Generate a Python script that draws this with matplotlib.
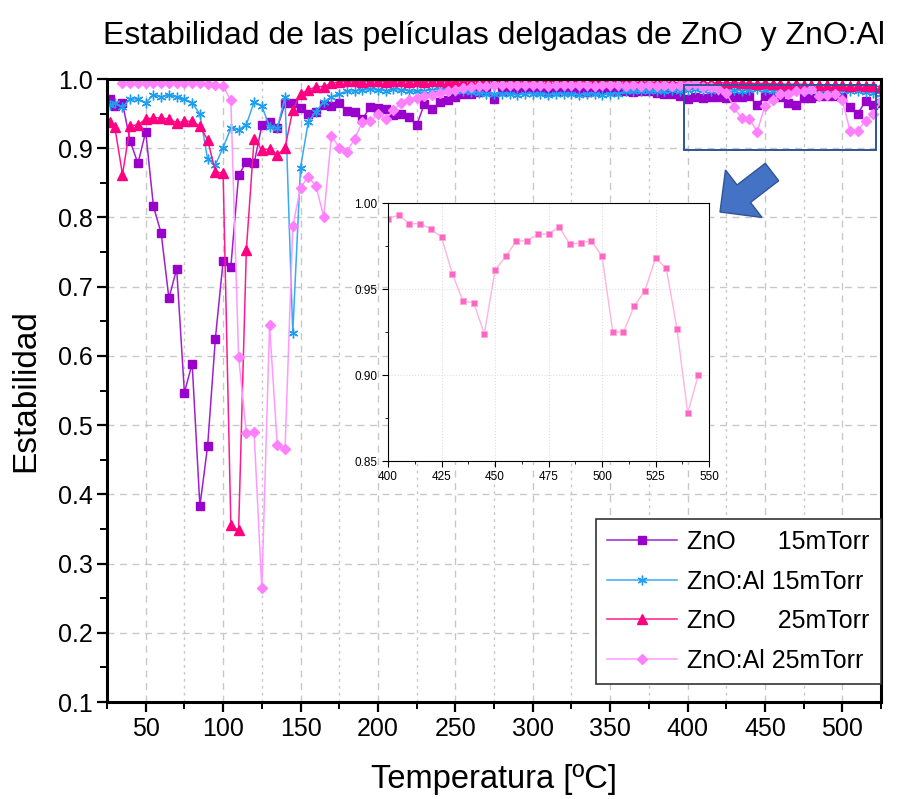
import numpy as np
import matplotlib
matplotlib.use('Agg')
import matplotlib.pyplot as plt
import matplotlib.patches as mpatches
import matplotlib.transforms as mtransforms
from matplotlib.ticker import MultipleLocator

plt.rcParams['font.family'] = ['Liberation Sans', 'DejaVu Sans']

# Temperaturas de medida (ºC)
temps = [27] + list(range(30, 550, 5))

# ZnO 15mTorr
zno_15 = [0.971, 0.961, 0.965, 0.910, 0.878, 0.924, 0.816, 0.777, 0.683, 0.726,
          0.547, 0.589, 0.383, 0.470, 0.625, 0.737, 0.729, 0.861, 0.880, 0.878,
          0.933, 0.938, 0.929, 0.965, 0.966, 0.958, 0.949, 0.953, 0.962, 0.961,
          0.966, 0.954, 0.953, 0.942, 0.960, 0.958, 0.956, 0.948, 0.949, 0.945,
          0.933, 0.964, 0.956, 0.967, 0.970, 0.974, 0.979, 0.979, 0.981, 0.982,
          0.971, 0.983, 0.985, 0.986, 0.987, 0.986, 0.984, 0.982, 0.983, 0.985,
          0.984, 0.982, 0.981, 0.983, 0.985, 0.984, 0.983, 0.982, 0.981, 0.983,
          0.982, 0.980, 0.979, 0.978, 0.975, 0.971, 0.974, 0.973, 0.974, 0.974,
          0.972, 0.974, 0.974, 0.975, 0.962, 0.975, 0.976, 0.974, 0.966, 0.962,
          0.972, 0.972, 0.976, 0.975, 0.976, 0.974, 0.959, 0.950, 0.968, 0.962,
          0.966]

# ZnO:Al 15mTorr
znoal_15 = [0.963, 0.965, 0.960, 0.971, 0.971, 0.966, 0.977, 0.974, 0.977, 0.974,
            0.971, 0.966, 0.949, 0.884, 0.876, 0.901, 0.929, 0.927, 0.934, 0.967,
            0.961, 0.931, 0.929, 0.974, 0.633, 0.872, 0.938, 0.953, 0.967, 0.974,
            0.979, 0.982, 0.983, 0.984, 0.985, 0.984, 0.983, 0.985, 0.984, 0.983,
            0.982, 0.983, 0.984, 0.985, 0.984, 0.983, 0.982, 0.981, 0.980, 0.979,
            0.978, 0.979, 0.978, 0.977, 0.978, 0.979, 0.978, 0.977, 0.978, 0.979,
            0.978, 0.977, 0.978, 0.979, 0.977, 0.978, 0.979, 0.982, 0.983, 0.982,
            0.983, 0.982, 0.983, 0.984, 0.983, 0.984, 0.985, 0.984, 0.983, 0.984,
            0.985, 0.984, 0.983, 0.984, 0.985, 0.984, 0.983, 0.984, 0.985, 0.984,
            0.983, 0.984, 0.983, 0.982, 0.983, 0.984, 0.983, 0.982, 0.981, 0.980,
            0.979]

# ZnO 25mTorr
zno_25 = [0.938, 0.931, 0.862, 0.932, 0.934, 0.942, 0.944, 0.944, 0.942, 0.937,
          0.939, 0.939, 0.932, 0.912, 0.866, 0.864, 0.355, 0.348, 0.753, 0.913,
          0.898, 0.899, 0.890, 0.901, 0.955, 0.979, 0.984, 0.989, 0.989, 0.994,
          0.996, 0.997, 0.997, 0.996, 0.997, 0.997, 0.996, 0.997, 0.997, 0.996,
          0.997, 0.996, 0.997, 0.997, 0.996, 0.997, 0.997, 0.996, 0.997, 0.997,
          0.996, 0.997, 0.996, 0.997, 0.997, 0.996, 0.997, 0.996, 0.997, 0.996,
          0.997, 0.996, 0.996, 0.997, 0.996, 0.996, 0.997, 0.996, 0.996, 0.995,
          0.996, 0.995, 0.996, 0.995, 0.995, 0.996, 0.995, 0.995, 0.994, 0.995,
          0.994, 0.995, 0.994, 0.994, 0.993, 0.994, 0.993, 0.993, 0.992, 0.993,
          0.992, 0.992, 0.991, 0.992, 0.991, 0.991, 0.990, 0.991, 0.990, 0.990,
          0.989]

# ZnO:Al 25mTorr
znoal_25 = [np.nan, np.nan, 0.994, 0.994, 0.994, 0.994, 0.994, 0.994, 0.994, 0.994,
            0.994, 0.994, 0.994, 0.993, 0.992, 0.990, 0.969, 0.599, 0.488, 0.490,
            0.264, 0.644, 0.471, 0.465, 0.787, 0.843, 0.859, 0.845, 0.801, 0.918,
            0.901, 0.895, 0.914, 0.938, 0.939, 0.950, 0.942, 0.955, 0.965, 0.970,
            0.972, 0.975, 0.977, 0.980, 0.982, 0.984, 0.987, 0.989, 0.990, 0.990,
            0.991, 0.992, 0.991, 0.992, 0.991, 0.992, 0.991, 0.990, 0.991, 0.992,
            0.991, 0.992, 0.991, 0.990, 0.991, 0.992, 0.991, 0.990, 0.991, 0.990,
            0.991, 0.990, 0.991, 0.990, 0.991, 0.991, 0.993, 0.988, 0.988, 0.985,
            0.980, 0.959, 0.943, 0.942, 0.924, 0.961, 0.969, 0.978, 0.978, 0.982,
            0.982, 0.986, 0.976, 0.977, 0.978, 0.969, 0.925, 0.925, 0.940, 0.949,
            0.968, 0.962, 0.927, 0.878, 0.900]

n = len(zno_15)

fig = plt.figure(figsize=(8.97, 7.99), dpi=100)
ax = fig.add_axes([0.1193, 0.1214, 0.8629, 0.7797])

ax.plot(temps[:n], zno_15, color='#a020d0', lw=1.1, marker='s', ms=5.5,
        mfc='#9900cc', mec='#9900cc', label='ZnO      15mTorr')
ax.plot(temps[:n], znoal_15, color='#3aaaf5', lw=1.1, marker=(6, 2, 0), ms=7,
        mew=1.0, mec='#1e9ef0', label='ZnO:Al 15mTorr')
ax.plot(temps[:n], zno_25, color='#ff1a8c', lw=1.1, marker='^', ms=6.5,
        mfc='#ff0080', mec='#ff0080', label='ZnO      25mTorr')
ax.plot(temps, znoal_25, color='#ff99ff', lw=1.1, marker='D', ms=5.5,
        mfc='#ff80ff', mec='#ff80ff', label='ZnO:Al 25mTorr')

ax.set_xlim(25, 525)
ax.set_ylim(0.1, 1.0)
ax.xaxis.set_major_locator(MultipleLocator(50))
ax.xaxis.set_minor_locator(MultipleLocator(25))
ax.yaxis.set_major_locator(MultipleLocator(0.1))
ax.yaxis.set_minor_locator(MultipleLocator(0.05))
ax.yaxis.set_major_formatter(plt.FormatStrFormatter('%.1f'))
ax.tick_params(which='major', direction='out', length=7, width=1.6, labelsize=18)
ax.tick_params(which='minor', direction='out', length=5, width=1.4)
for s in ax.spines.values():
    s.set_linewidth(2.2)

ax.grid(which='major', color='#c8c8c8', ls=(0, (5, 4)), lw=1)
ax.xaxis.grid(which='minor', color='#c8c8c8', ls=(0, (2, 3)), lw=1)
ax.set_axisbelow(True)

ax.set_xlabel('Temperatura [ºC]', fontsize=23.5, labelpad=17)
ax.set_ylabel('Estabilidad', fontsize=24, labelpad=12)
ax.set_title('Estabilidad de las películas delgadas de ZnO  y ZnO:Al', fontsize=23, pad=25)

leg = ax.legend(loc='lower right', bbox_to_anchor=(1.0, 0.029), fontsize=18,
                handlelength=2.8, handletextpad=0.4, labelspacing=0.62,
                borderpad=0.45, borderaxespad=0, fancybox=False, framealpha=1,
                edgecolor='#333333')
leg.get_frame().set_linewidth(1.2)

# recuadro de la zona ampliada
ax.add_patch(mpatches.Rectangle((398, 0.898), 124, 0.093, fill=False,
                                edgecolor='#2f5597', lw=1.4, zorder=6))

# flecha hacia el detalle
arrow = mpatches.FancyArrow(772, 799 - 172, -52, -40, width=22, head_width=60,
                            head_length=30, length_includes_head=True,
                            facecolor='#4472c4', edgecolor='#2f5597', lw=1,
                            transform=mtransforms.IdentityTransform())
fig.patches.append(arrow)

# detalle 400-550 ºC de ZnO:Al 25mTorr
axin = fig.add_axes([0.4326, 0.423, 0.3579, 0.3229])
axin.plot(temps[-30:], znoal_25[-30:], color='#ffb3e0', lw=1, marker='s', ms=4.3,
          mfc='#ff66c4', mec='#ffaad8', mew=0.6)
axin.set_xlim(400, 550)
axin.set_ylim(0.85, 1.0)
axin.xaxis.set_major_locator(MultipleLocator(25))
axin.xaxis.set_minor_locator(MultipleLocator(12.5))
axin.yaxis.set_major_locator(MultipleLocator(0.05))
axin.yaxis.set_minor_locator(MultipleLocator(0.025))
axin.yaxis.set_major_formatter(plt.FormatStrFormatter('%.2f'))
axin.tick_params(which='major', direction='out', length=4, width=0.8, labelsize=8.5)
axin.tick_params(which='minor', direction='out', length=2.5, width=0.6)
axin.grid(which='major', color='#dddddd', ls=':', lw=0.8)
for s in axin.spines.values():
    s.set_linewidth(0.8)

plt.savefig('out.png', dpi=100)
